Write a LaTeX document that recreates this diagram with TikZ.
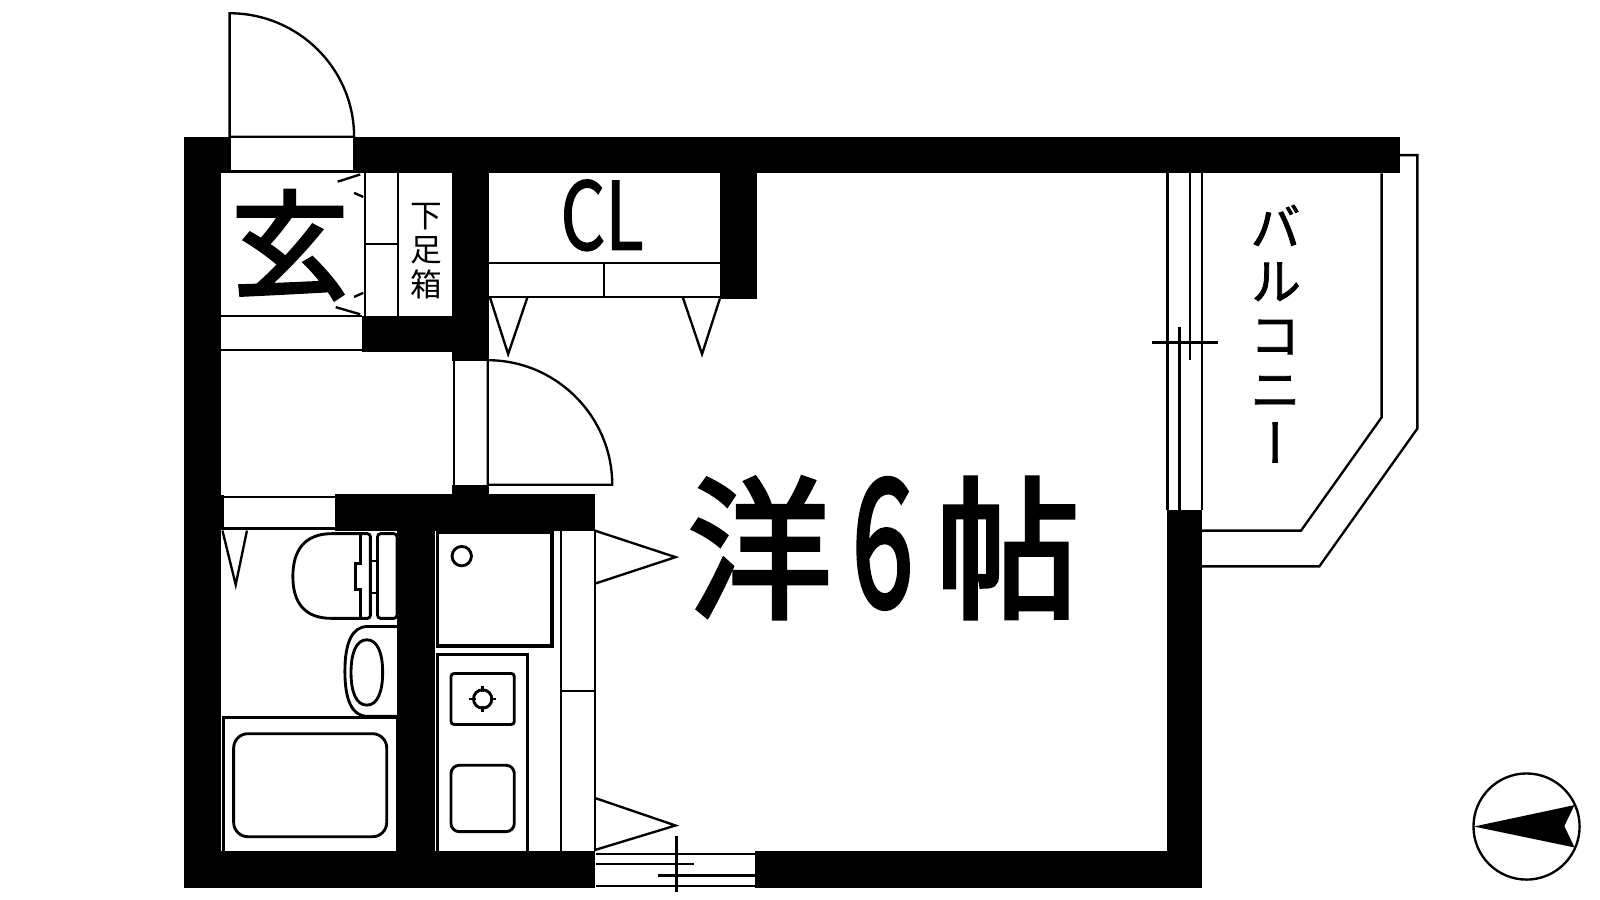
\documentclass[tikz,border=0pt]{standalone}
\usepackage{graphicx}
\usepackage{fontspec}
\newfontfamily\jpfont{Noto Sans CJK JP}
\newfontfamily\jpheavy[FakeBold=3]{Noto Sans CJK JP}
\newfontfamily\jpmid[FakeBold=1.5]{Noto Sans CJK JP}
\newfontfamily\jpvert[RawFeature=+vert,FakeBold=1.5]{Noto Sans CJK JP}
\usetikzlibrary{positioning}

\begin{document}
\begin{tikzpicture}[x=1pt,y=-1pt,line width=2.3pt,
    wall/.style={fill=black,draw=none},
    fixture/.style={draw=black,line width=2.8pt},
    label/.style={inner sep=0pt,align=center}]
    \useasboundingbox (0,0) rectangle (1568,882);

    % Walls
    \fill[wall] (180,134) rectangle (226,168);
    \fill[wall] (346,134) rectangle (1372,170);
    \fill[wall] (180,134) rectangle (217,870);
    \fill[wall] (180,834) rectangle (583,870);
    \fill[wall] (740,834) rectangle (1178,870);
    \fill[wall] (1144,500) rectangle (1178,870);
    \fill[wall] (443,170) rectangle (479,354);
    \fill[wall] (355,310) rectangle (443,345);
    \fill[wall] (706,170) rectangle (742,293);
    \fill[wall] (443,475) rectangle (479,485);
    \fill[wall] (328,484) rectangle (583,520);
    \fill[wall] (391,484) rectangle (426,834);
    \fill[wall] (217,485) rectangle (220,518);

    % Entrance door
    \draw (225,134) -- (225,13) .. controls (292,13) and (347,67) .. (347,134) -- cycle;
    \draw (217,168) -- (347,168);
    \draw (217,310) -- (355,310);
    \draw (217,343) -- (355,343);
    \draw (331,178) -- (353,171);
    \draw (347,189) -- (356,193);
    \draw (347,291) -- (356,287);
    \draw (329,301) -- (353,308);

    % Shoe cabinet
    \draw (358,170) -- (358,310);
    \draw (390,170) -- (390,310);
    \draw (358,239) -- (390,239);

    % Closet
    \draw (479,258) -- (706,258);
    \draw (479,291) -- (706,291);
    \draw (592,258) -- (592,291);
    \draw (480,291) -- (498,347) -- (517,291);
    \draw (669,291) -- (688,347) -- (706,291);

    % Room door
    \draw (445,354) -- (445,475);
    \draw (478,475) -- (478,353) .. controls (545,353) and (600,408) .. (600,475) -- cycle;

    % Bath door
    \draw (220,487) -- (328,487);
    \draw (217,518) -- (328,518);
    \draw (218,520) -- (231,573) -- (242,520);

    % Toilet
    \draw[fixture] (390,520) -- (390,834);
    \draw[fixture,rounded corners=3pt] (370,523) rectangle (389,606);
    \draw[fixture,rounded corners=3pt] (353,523) -- (363,523) -- (363,606) -- (353,606);
    \draw[fixture] (353,606) -- (353,578) -- (348,578) -- (348,552) -- (353,552) -- (353,523);
    \draw[fixture] (353,523) -- (325,523) .. controls (298,523) and (287,540) .. (287,565)
        .. controls (287,590) and (298,606) .. (325,606) -- (353,606);
    \draw (363,550) -- (370,550);
    \draw (363,581) -- (370,581);

    % Washbasin
    \draw[fixture] (390,614) -- (360,614) .. controls (345,614) and (338,630) .. (338,658)
        .. controls (338,686) and (345,702) .. (360,702) -- (390,702);
    \draw[fixture] (359.5,627) .. controls (370,627) and (375,640) .. (375,659)
        .. controls (375,678) and (370,691) .. (359.5,691)
        .. controls (349,691) and (344,678) .. (344,659)
        .. controls (344,640) and (349,627) .. (359.5,627) -- cycle;

    % Bathtub
    \draw[fixture] (219,834) -- (219,703) -- (389,703) -- (389,834);
    \draw[fixture,rounded corners=14pt] (229,719) rectangle (379,820);

    % Kitchen
    \draw[fixture,line width=3.2pt] (429,522) rectangle (541,633);
    \draw[fixture] (452.5,545) circle (9.5pt);
    \draw[fixture] (429,834) -- (429,641) -- (517,641) -- (517,834);
    \draw[fixture,rounded corners=3pt] (442,660) rectangle (504,710);
    \draw[fixture] (473,685) circle (9pt);
    \draw (473,672) -- (473,678) (473,692) -- (473,698) (460,685) -- (466,685) (480,685) -- (486,685);
    \draw[fixture,rounded corners=8pt] (442,750) rectangle (504,815);

    % Kitchen cupboard
    \draw (550,520) -- (550,834);
    \draw (583,520) -- (583,834);
    \draw (550,677) -- (583,677);
    \draw (583,520) -- (662,546) -- (583,572);
    \draw (583,782) -- (662,809) -- (583,833);

    % Bottom window
    \draw (584,837) -- (740,837);
    \draw (584,868) -- (740,868);
    \draw (584,847) -- (680,847);
    \draw (645,858) -- (740,858);
    \draw (663,819) -- (663,874);

    % Balcony window
    \draw (1144,170) -- (1144,500);
    \draw (1178,170) -- (1178,500);
    \draw (1166,170) -- (1166,353);
    \draw (1156,320) -- (1156,500);
    \draw (1129,335.5) -- (1194,335.5);

    % Balcony
    \draw (1372,152) -- (1389,152) -- (1389,420) -- (1293,555) -- (1178,555);
    \draw (1354,170) -- (1354,409) -- (1275,520) -- (1178,520);

    % North mark
    \draw (1496,810) circle (52pt);
    \fill (1444.5,810) -- (1543,789) -- (1533,809.5) -- (1543,830.5) -- cycle;

    % Labels
    \node[label,font=\jpheavy\fontsize{115}{115}\selectfont] (entrance) at (284,240) {玄};
    \node[label,font=\jpfont\fontsize{31}{34}\selectfont] (shoebox) at (418,246) {下\\足\\箱};
    \node[label,font=\jpmid\fontsize{92}{92}\selectfont] (closet) at (590,211) {\scalebox{.75}[1]{CL}};
    \node[label,font=\jpvert\fontsize{50}{53}\selectfont] (balcony) at (1250,327) {バ\\ル\\コ\\ニ\\ー};
    \node[label,font=\jpheavy\fontsize{150}{150}\selectfont] (room) at (866,537) {\scalebox{.94}[1]{洋}\hspace{20pt}\scalebox{.72}[1.15]{6}\hspace{22pt}\scalebox{.94}[1]{帖}};
\end{tikzpicture}
\end{document}
